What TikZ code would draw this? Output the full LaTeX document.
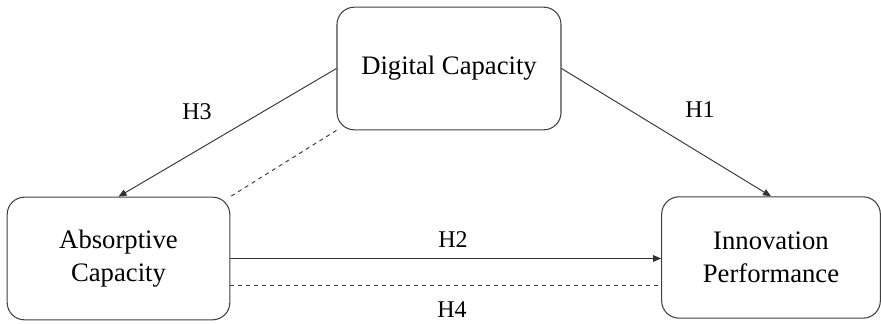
\documentclass[tikz,border=0pt]{standalone}
\usepackage{fontspec}
\setmainfont{Liberation Serif}
\usetikzlibrary{arrows.meta}

\begin{document}
\begin{tikzpicture}[x=0.75pt,y=0.75pt,
  box/.style={draw=black!75, line width=0.8pt, rounded corners=13pt, align=center, font=\fontsize{20}{25}\selectfont},
  link/.style={draw=black!80, line width=0.7pt, -{Triangle[length=6pt,width=5pt]}},
  dashlink/.style={draw=black!80, line width=0.7pt, dashed},
  hyp/.style={font=\fontsize{18}{22}\selectfont}]
\useasboundingbox (0,0) rectangle (881,324);
\node[box, minimum width=168pt, minimum height=92pt] (dc) at (449,255.5) {Digital Capacity};
\node[box, minimum width=167pt, minimum height=92pt] (ac) at (118.5,65.5) {Absorptive\\Capacity};
\node[box, minimum width=164pt, minimum height=91pt] (ip) at (771,66.5) {Innovation\\Performance};
\draw[link] (dc.west) -- (ac.north);
\draw[link] (dc.east) -- (ip.north);
\draw[dashlink] (dc.south west) -- (ac.north east);
\draw[link] (ac.east) -- (ac.east -| ip.west);
\draw[dashlink] ([yshift=-20pt]ac.east) -- ([yshift=-20pt]ac.east -| ip.west);
\node[hyp] (h3) at (197,212) {H3};
\node[hyp] (h1) at (700,214) {H1};
\node[hyp] (h2) at (453,84) {H2};
\node[hyp] (h4) at (452,14) {H4};
\end{tikzpicture}
\end{document}
